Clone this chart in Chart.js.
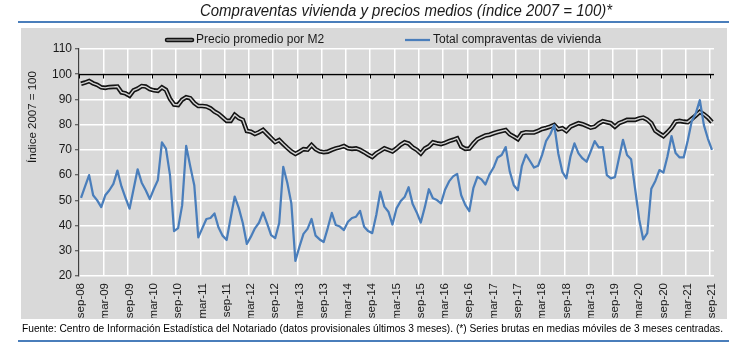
<!DOCTYPE html>
<html><head><meta charset="utf-8">
<script src="https://cdn.jsdelivr.net/npm/chart.js@4.4.0/dist/chart.umd.min.js"></script>
<style>html,body{margin:0;padding:0;background:#fff}</style>
</head><body>
<canvas id="c" width="750" height="350"></canvas>
<script>
const titleText = 'Compraventas vivienda y precios medios (índice 2007 = 100)*';
const footerText = 'Fuente: Centro de Información Estadística del Notariado (datos provisionales últimos 3 meses). (*) Series brutas en medias móviles de 3 meses centradas.';
const yTitle = 'Índice 2007 = 100';
const seriesNames = ['Precio promedio por M2', 'Total compraventas de vivienda'];

const months = [
  'sep-08','oct-08','nov-08','dic-08',
  'ene-09','feb-09','mar-09','abr-09','may-09','jun-09','jul-09','ago-09','sep-09','oct-09','nov-09','dic-09',
  'ene-10','feb-10','mar-10','abr-10','may-10','jun-10','jul-10','ago-10','sep-10','oct-10','nov-10','dic-10',
  'ene-11','feb-11','mar-11','abr-11','may-11','jun-11','jul-11','ago-11','sep-11','oct-11','nov-11','dic-11',
  'ene-12','feb-12','mar-12','abr-12','may-12','jun-12','jul-12','ago-12','sep-12','oct-12','nov-12','dic-12',
  'ene-13','feb-13','mar-13','abr-13','may-13','jun-13','jul-13','ago-13','sep-13','oct-13','nov-13','dic-13',
  'ene-14','feb-14','mar-14','abr-14','may-14','jun-14','jul-14','ago-14','sep-14','oct-14','nov-14','dic-14',
  'ene-15','feb-15','mar-15','abr-15','may-15','jun-15','jul-15','ago-15','sep-15','oct-15','nov-15','dic-15',
  'ene-16','feb-16','mar-16','abr-16','may-16','jun-16','jul-16','ago-16','sep-16','oct-16','nov-16','dic-16',
  'ene-17','feb-17','mar-17','abr-17','may-17','jun-17','jul-17','ago-17','sep-17','oct-17','nov-17','dic-17',
  'ene-18','feb-18','mar-18','abr-18','may-18','jun-18','jul-18','ago-18','sep-18','oct-18','nov-18','dic-18',
  'ene-19','feb-19','mar-19','abr-19','may-19','jun-19','jul-19','ago-19','sep-19','oct-19','nov-19','dic-19',
  'ene-20','feb-20','mar-20','abr-20','may-20','jun-20','jul-20','ago-20','sep-20','oct-20','nov-20','dic-20',
  'ene-21','feb-21','mar-21','abr-21','may-21','jun-21','jul-21','ago-21','sep-21'
];

const precio = [
  96.2, 96.7, 97.3, 96.4, 95.8, 94.8, 94.6, 94.9, 95.0, 95.1,
  92.8, 92.4, 91.5, 93.6, 94.3, 95.3, 95.1, 94.1, 93.6, 93.4,
  94.8, 93.8, 90.2, 88.0, 87.8, 89.9, 90.9, 90.5, 88.6, 87.4,
  87.4, 87.2, 86.5, 85.2, 84.3, 82.9, 81.5, 81.5, 83.9, 82.6,
  81.9, 77.5, 77.2, 76.3, 77.0, 77.9, 76.3, 74.7, 73.1, 73.9,
  72.3, 70.8, 69.4, 68.4, 69.3, 70.3, 70.1, 71.9, 70.3, 69.4,
  69.1, 69.3, 70.0, 70.6, 71.0, 71.5, 70.6, 70.4, 70.6, 70.0,
  69.1, 68.1, 67.2, 68.6, 69.6, 70.6, 70.0, 69.4, 70.6, 72.0,
  73.0, 72.5, 71.0, 70.0, 68.6, 70.5, 71.4, 73.0, 72.6, 72.3,
  72.8, 73.5, 74.0, 74.6, 71.3, 70.4, 70.5, 72.5, 74.2, 75.0,
  75.7, 76.0, 76.6, 77.1, 77.5, 77.9, 76.2, 75.3, 74.3, 76.6,
  77.0, 76.9, 76.9, 77.5, 78.3, 78.7, 79.2, 79.9, 78.2, 78.6,
  77.5, 79.2, 79.9, 80.6, 80.2, 79.5, 78.8, 79.2, 80.5, 81.4,
  81.0, 80.6, 79.2, 80.6, 81.2, 81.9, 81.9, 81.9, 82.5, 82.8,
  82.0, 80.6, 77.6, 76.5, 75.5, 77.0, 78.8, 81.2, 81.5, 81.2,
  81.0, 82.3, 83.6, 85.1, 84.1, 82.8, 81.0
];

const compraventas = [
  51, 55.5, 60, 52, 50, 47.3, 52, 54, 56.5, 61.8,
  55.5, 51, 46.7, 54.5, 62.3, 57, 54, 50.5, 54.5, 58,
  73, 70.5, 60, 37.8, 39, 48, 71.6, 63.5, 56, 35.3,
  39, 42.6, 43, 44.8, 39.2, 36, 34.3, 43, 51.5, 47,
  41, 32.7, 35.6, 38.9, 41.1, 45.2, 40.9, 36.2, 35, 41,
  63.3, 57, 48.8, 26, 31.6, 36.7, 38.7, 42.6, 36, 34.5,
  33.5, 39, 45, 40.2, 39.6, 38.2, 41.5, 43, 43.5, 45.8,
  39.5, 37.8, 37, 44.2, 53.4, 47.5, 45.5, 40.4, 46.8, 49.6,
  51.3, 55.2, 48.5, 45.2, 41.2, 47.3, 54.4, 50.8, 50.1, 48.8,
  54.2, 57.5, 59.5, 60.5, 52, 48.2, 45.7, 54.8, 59.3, 58.3,
  56.3, 60.3, 63, 67, 68, 71.1, 61.5, 56, 54, 63.7,
  68.1, 65.6, 63, 63.7, 68, 73.6, 76.1, 79.9, 68.6, 61.3,
  58.7, 67.3, 72.6, 68.6, 66.6, 65.3, 69.3, 73.5, 71, 71.1,
  60, 58.7, 59.2, 66.7, 74, 68, 66.3, 54.5, 42.5, 34.5,
  37, 54.6, 57.7, 62, 61, 67.5, 75.5, 68.8, 67, 67,
  73.6, 81.4, 84.5, 89.7, 79.8, 74.4, 70
];

const yMin = 20, yMax = 110, yStep = 10, axisCross = 100, labelEvery = 6;

const BLUE = '#4a7ebb';
const FONT = "'Liberation Sans', Arial, sans-serif";

function line(ctx, x1, y1, x2, y2) { ctx.beginPath(); ctx.moveTo(x1, y1); ctx.lineTo(x2, y2); ctx.stroke(); }

const deco = {
  id: 'deco',
  beforeDraw(chart) {
    const ctx = chart.ctx;
    ctx.save();
    ctx.fillStyle = '#ffffff'; ctx.fillRect(0, 0, 750, 350);
    ctx.fillStyle = '#d9d9d9'; ctx.fillRect(21, 28, 706, 291);
    ctx.strokeStyle = BLUE; ctx.lineWidth = 2;
    line(ctx, 18, 22, 729, 22);
    line(ctx, 18, 341, 729, 341);
    ctx.restore();
  },
  beforeDatasetsDraw(chart) {
    const {ctx, chartArea, scales: {x, y}} = chart;
    const y100 = Math.round(y.getPixelForValue(axisCross)) + 0.5;
    const half = (x.getPixelForValue(1) - x.getPixelForValue(0)) / 2;
    ctx.save();
    ctx.strokeStyle = '#000'; ctx.lineWidth = 1.5;
    line(ctx, chartArea.left, y100, chartArea.right, y100);
    ctx.lineWidth = 1;
    for (let i = 0; i < months.length; i += labelEvery) {
      const px = Math.round(x.getPixelForValue(i) - half) + 0.5;
      line(ctx, px, y100, px, y100 + 4);
    }
    ctx.restore();
  },
  afterDraw(chart) {
    const ctx = chart.ctx;
    ctx.save();
    // title
    ctx.fillStyle = '#1a1a1a';
    ctx.font = 'italic 16px ' + FONT;
    ctx.textAlign = 'center'; ctx.textBaseline = 'middle';
    ctx.fillText(titleText, 406, 12, 412);
    // footer
    ctx.fillStyle = '#000';
    ctx.font = '11px ' + FONT;
    ctx.textAlign = 'left';
    ctx.fillText(footerText, 22, 329, 701);
    // y title
    ctx.save();
    ctx.translate(33, 117);
    ctx.rotate(-Math.PI / 2);
    ctx.textAlign = 'center';
    ctx.fillStyle = '#1a1a1a';
    ctx.font = '11.5px ' + FONT;
    ctx.fillText(yTitle, 0, 0);
    ctx.restore();
    // legend
    ctx.font = '12px ' + FONT;
    ctx.fillStyle = '#1a1a1a';
    ctx.textAlign = 'left';
    ctx.fillText(seriesNames[0], 196, 40);
    ctx.fillText(seriesNames[1], 433, 40);
    ctx.lineCap = 'round';
    ctx.strokeStyle = '#111'; ctx.lineWidth = 4.5;
    line(ctx, 167, 40, 192, 40);
    ctx.strokeStyle = '#8c8c8c'; ctx.lineWidth = 1.5;
    line(ctx, 167, 40, 192, 40);
    ctx.lineCap = 'butt';
    ctx.strokeStyle = BLUE; ctx.lineWidth = 2.25;
    line(ctx, 405, 40, 430, 40);
    ctx.restore();
  }
};

new Chart(document.getElementById('c'), {
  type: 'line',
  data: {
    labels: months,
    datasets: [
      { label: seriesNames[1], data: compraventas, borderColor: BLUE, borderWidth: 2.25, pointRadius: 0, tension: 0, borderJoinStyle: 'round' },
      { label: seriesNames[0] + ' (interior)', data: precio, borderColor: '#d4d4d4', borderWidth: 1.4, pointRadius: 0, tension: 0 },
      { label: seriesNames[0], data: precio, borderColor: '#141414', borderWidth: 4.6, pointRadius: 0, tension: 0 }
    ]
  },
  options: {
    responsive: false,
    animation: false,
    devicePixelRatio: 1,
    layout: { padding: { left: 22, right: 36, top: 49, bottom: 32 } },
    plugins: { legend: { display: false }, title: { display: false }, tooltip: { enabled: false } },
    scales: {
      x: {
        type: 'category',
        offset: true,
        afterFit(s) { s.height = 42; },
        grid: {
          offset: true,
          drawTicks: false,
          color: c => (c.index !== undefined && c.index % labelEvery === 0) ? '#ffffff' : 'rgba(0,0,0,0)',
          lineWidth: 1.5
        },
        border: { display: false },
        ticks: {
          autoSkip: false, minRotation: 90, maxRotation: 90, padding: 7,
          color: '#1a1a1a', font: { family: FONT, size: 11.5 },
          callback: function(v, i) { return i % labelEvery === 0 ? months[i] : ''; }
        }
      },
      y: {
        min: yMin, max: yMax,
        afterFit(s) { s.width = 57; },
        grid: { color: '#ffffff', lineWidth: 1.5, drawTicks: true, tickLength: 4, tickColor: '#404040', tickWidth: 1 },
        border: { display: true, color: '#404040', width: 1.25 },
        ticks: { stepSize: yStep, padding: 3, color: '#1a1a1a', font: { family: FONT, size: 12 } }
      }
    }
  },
  plugins: [deco]
});
</script>
</body></html>
